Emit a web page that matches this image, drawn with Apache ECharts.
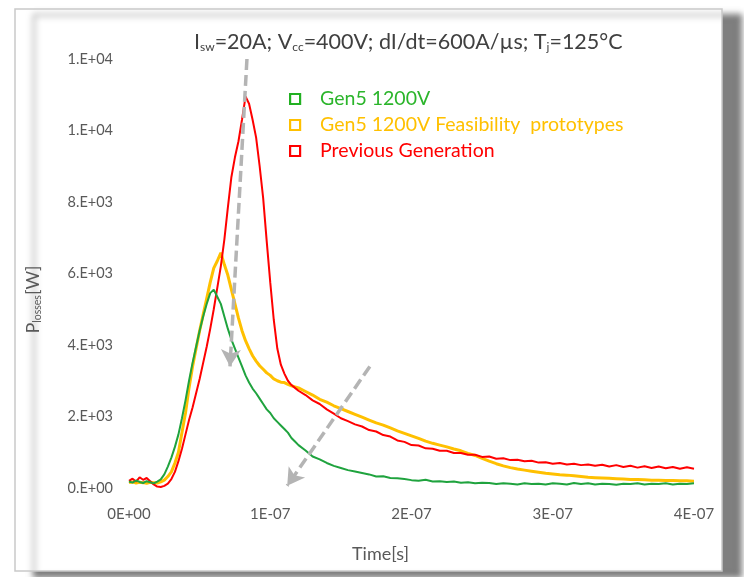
<!DOCTYPE html>
<html><head><meta charset="utf-8">
<script src="https://cdn.jsdelivr.net/npm/echarts@6/dist/echarts.min.js"></script>
<style>html,body{margin:0;padding:0;background:#fff}#c{width:744px;height:577px}</style>
</head><body><div id="c"></div>
<script>
// time in ns
const timeNs = [0,2.5,5,7.5,10,12.5,15,17.5,20,22.5,25,27.5,30,32.5,35,37.5,40,42.5,45,47.5,50,52.5,55,57.5,60,62.5,65,67.5,70,72.5,75,77.5,80,82.5,85,87.5,90,92.5,95,97.5,100,102.5,105,107.5,110,112.5,115,117.5,120,
125,130,135,140,145,150,155,160,165,170,175,180,185,190,195,200,205,210,215,220,225,230,235,240,245,250,255,260,265,270,275,280,285,290,295,300,305,310,315,320,325,330,335,340,345,350,355,360,365,370,375,380,385,390,395,400];

const gen5 = [180,150,210,170,140,190,160,130,180,240,380,600,850,1150,1500,1950,2450,3000,3500,3950,4400,4800,5150,5450,5550,5350,5150,4800,4450,4150,3900,3650,3400,3150,2950,2780,2650,2500,2350,2200,2100,1950,1850,1750,1650,1550,1400,1300,1200,
1050,880,800,700,620,560,500,460,420,380,320,330,280,270,250,220,200,230,180,190,170,180,150,160,130,150,140,110,130,120,100,130,110,120,100,130,120,100,140,110,130,100,120,110,90,120,110,130,100,120,110,130,100,120,110,130];

const gen5Proto = [150,170,140,160,150,130,160,150,140,170,220,320,450,700,1000,1550,2100,2800,3400,3900,4400,4850,5300,5750,6150,6350,6580,6250,5950,5550,5150,4750,4400,4120,3900,3700,3550,3420,3320,3220,3150,3050,3000,2960,2950,2900,2860,2830,2800,
2700,2600,2480,2400,2300,2220,2140,2060,1980,1900,1820,1760,1680,1600,1530,1460,1390,1310,1250,1200,1150,1090,1040,970,910,830,750,680,620,570,530,500,470,440,410,390,370,360,340,320,300,290,280,270,260,250,240,240,230,220,220,210,210,200,200,190];

const prevGen = [200,260,180,300,230,280,190,100,40,30,60,120,250,450,750,1100,1500,1900,2250,2650,3050,3500,3950,4450,5000,5600,6200,6950,7850,8700,9250,9700,10300,10950,10750,10300,9800,9000,8100,6900,5750,4700,3900,3450,3200,3000,2880,2800,2720,
2600,2450,2350,2200,2080,1950,1870,1780,1720,1620,1580,1480,1440,1330,1290,1200,1190,1110,1100,1040,1040,980,980,930,930,870,880,820,830,780,790,750,760,710,720,680,700,660,680,640,660,620,650,600,640,590,620,570,610,560,600,550,590,540,580,540];

const seriesNames = ['Gen5 1200V','Gen5 1200V Feasibility  prototypes','Previous Generation'];
const xTickLabels = ['0E+00','1E-07','2E-07','3E-07','4E-07'];
const yTickLabels = ['0.E+00','2.E+03','4.E+03','6.E+03','8.E+03','1.E+04','1.E+04'];
// annotation arrows [startT, startP, endT, endP]
const arrow1 = [83.5, 12000, 71.5, 3400];
const arrow2 = [170.5, 3400, 112, 60];

const colors = ['#1fa33e','#ffc000','#ff0000'];
const legendIconColors = ['#22b022','#ffc000','#ff0000'];
const legendTextColors = ['#2bb52b','#ffc000','#ff0000'];
const widths = [2, 3, 2];
const allData = [gen5, gen5Proto, prevGen];

const FONT = 'Lato, "Open Sans", sans-serif';
const chart = echarts.init(document.getElementById('c'));

const series = allData.map((arr, i) => ({
  name: seriesNames[i],
  type: 'line',
  showSymbol: false,
  z: i === 2 ? 3 : (i === 1 ? 2 : 4),
  data: timeNs.map((t, k) => [t, arr[k]]),
  lineStyle: {color: colors[i], width: widths[i]},
  itemStyle: {color: colors[i]}
}));
series.push({
  type: 'line', data: [], z: 10, silent: true,
  markLine: {
    silent: true, symbol: ['none','arrow'], symbolSize: [15, 17],
    label: {show: false},
    lineStyle: {color: '#b4b4b4', width: 3.5, type: [11, 5]},
    data: [
      [{coord: [arrow1[0], arrow1[1]]}, {coord: [arrow1[2], arrow1[3]]}],
      [{coord: [arrow2[0], arrow2[1]]}, {coord: [arrow2[2], arrow2[3]]}]
    ]
  }
});

chart.setOption({
  animation: false,
  backgroundColor: '#fff',
  graphic: [{
    type: 'rect', z: -10, silent: true,
    shape: {x: 15, y: 9, width: 707, height: 562},
    style: {fill: '#fff', stroke: '#c9c9c9', lineWidth: 1.5,
      shadowColor: 'rgba(0,0,0,0.5)', shadowBlur: 6, shadowOffsetX: 19, shadowOffsetY: 6}
  }],
  title: {
    text: 'I{s|sw}=20A; V{s|cc}=400V; dI/dt=600A/µs; T{s|j}=125°C',
    left: 189, top: 26,
    textStyle: {
      fontFamily: FONT, fontSize: 21.5, fontWeight: 'normal', color: '#404040',
      rich: {s: {fontFamily: FONT, fontSize: 12, color: '#404040', verticalAlign: 'bottom', padding: [10,0,0,0]}}
    }
  },
  legend: {
    data: seriesNames.map((n, i) => ({
      name: n,
      itemStyle: {color: '#ffffff', borderColor: legendIconColors[i], borderWidth: 2.2},
      textStyle: {color: legendTextColors[i]}
    })),
    orient: 'vertical', left: 284, top: 84,
    icon: 'rect', itemWidth: 10, itemHeight: 10, itemGap: 6,
    textStyle: {fontFamily: FONT, fontSize: 19.5, lineHeight: 20, padding: [0,0,0,15]},
    selectedMode: false
  },
  grid: {left: 129, right: 50, top: 59, bottom: 89, containLabel: false},
  xAxis: {
    type: 'value', min: 0, max: 400, interval: 100,
    name: 'Time[s]', nameLocation: 'middle', nameGap: 57,
    nameTextStyle: {fontFamily: FONT, fontSize: 18, color: '#595959', padding: [0, 62, 0, 0]},
    axisLine: {show: false}, axisTick: {show: false}, splitLine: {show: false},
    axisLabel: {fontFamily: FONT, fontSize: 15, color: '#595959', margin: 19,
      formatter: v => xTickLabels[Math.round(v / 100)]}
  },
  yAxis: {
    type: 'value', min: 0, max: 12000, interval: 2000,
    name: 'P{s|losses}[W]', nameLocation: 'middle', nameGap: 86,
    nameTextStyle: {fontFamily: FONT, fontSize: 18, color: '#595959', padding: [0, 52, 0, 0],
      rich: {s: {fontFamily: FONT, fontSize: 10.5, color: '#595959', verticalAlign: 'bottom', padding: [8,0,0,0]}}},
    axisLine: {show: false}, axisTick: {show: false}, splitLine: {show: false},
    axisLabel: {fontFamily: FONT, fontSize: 14.5, color: '#595959', margin: 16,
      formatter: v => yTickLabels[Math.round(v / 2000)]}
  },
  series: series
});
</script></body></html>
